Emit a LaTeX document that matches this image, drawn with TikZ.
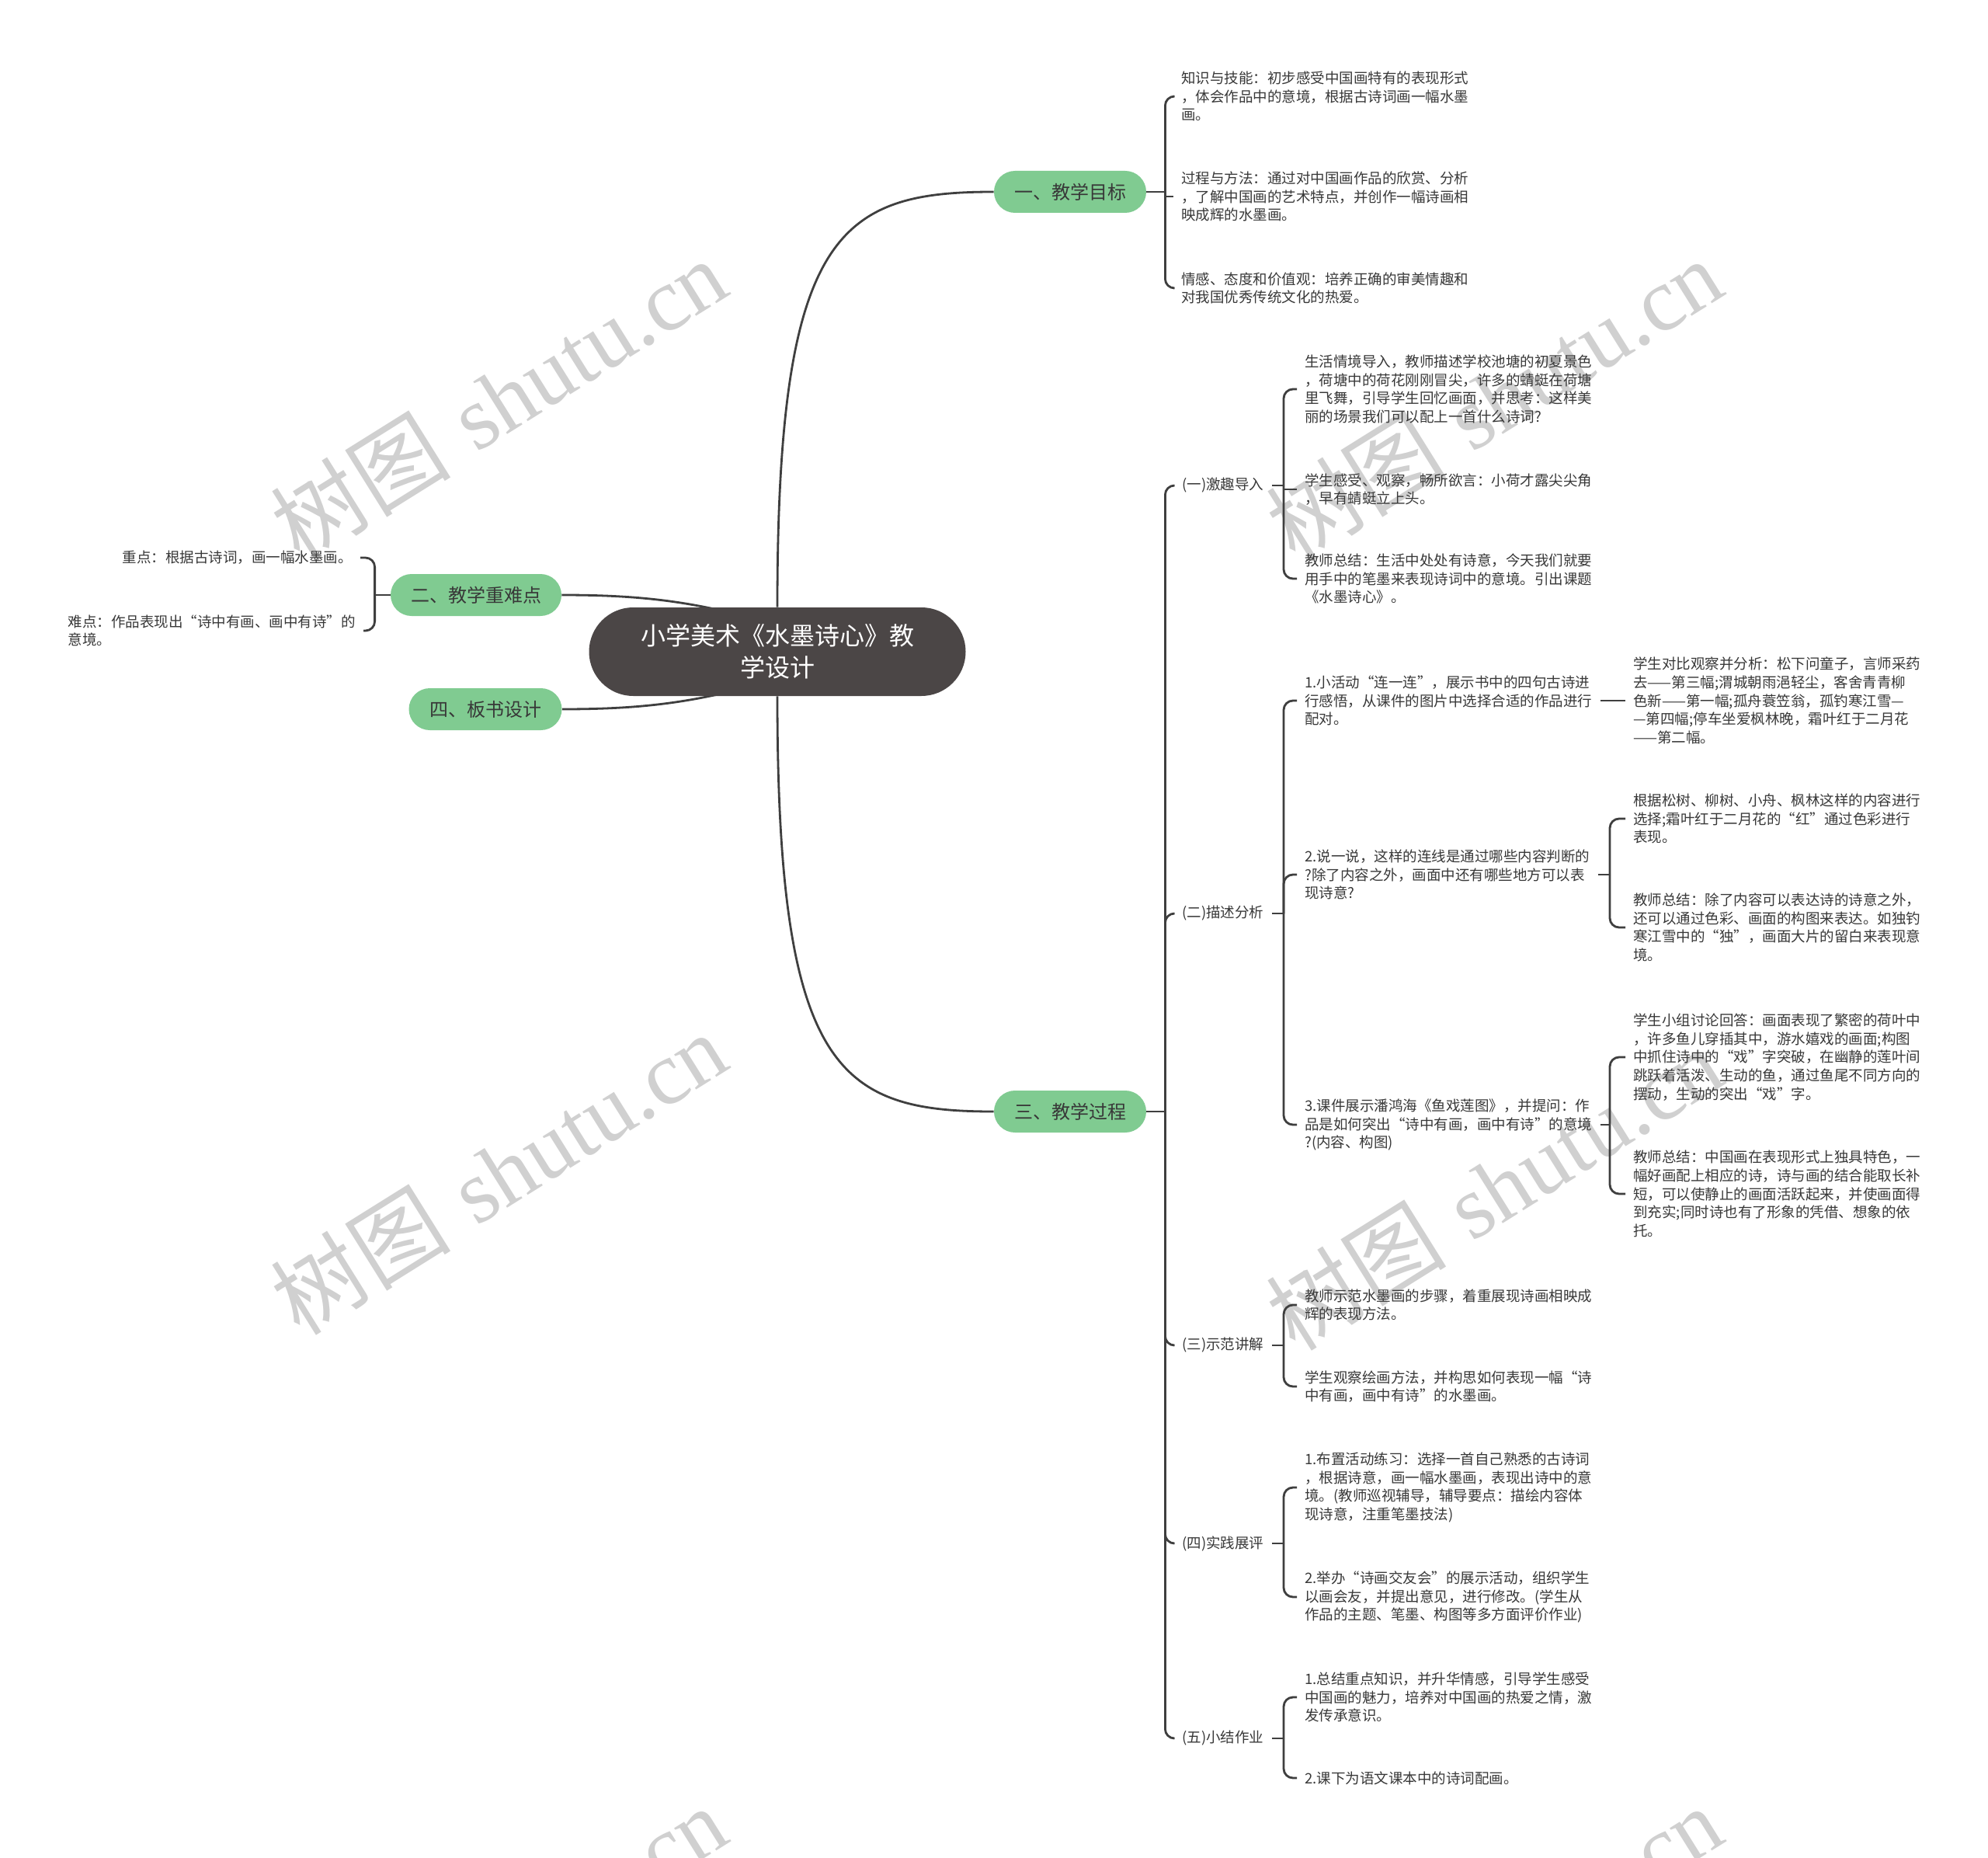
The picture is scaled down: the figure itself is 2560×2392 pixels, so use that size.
\documentclass[tikz,border=0pt]{standalone}
\usepackage{fontspec}
\newfontfamily\cjk{Noto Sans CJK SC}
\newfontfamily\wmserif{Liberation Serif}
\usetikzlibrary{backgrounds}
\definecolor{linec}{HTML}{3F3F3F}
\definecolor{txtc}{HTML}{383838}
\definecolor{greenc}{HTML}{80CB91}
\definecolor{rootc}{HTML}{4B4646}
\definecolor{wmc}{HTML}{D0D0D0}
\begin{document}
\begin{tikzpicture}[x=0.5pt,y=-0.5pt,
  conn/.style={draw=linec, line width=1.4pt, rounded corners=6pt},
  mainline/.style={draw=linec, line width=1.4pt},
  leaf/.style={font=\cjk\fontsize{9.25pt}{11.85pt}\selectfont, text=txtc, align=left, inner xsep=5pt, inner ysep=2pt, anchor=west},
  leafl/.style={leaf, anchor=east},
  topic/.style={font=\cjk\fontsize{12pt}{14pt}\selectfont, text=txtc, fill=greenc, rounded corners=13.5pt, minimum height=27pt, minimum width=98pt, inner sep=0pt},
  rootbox/.style={font=\cjk\fontsize{16pt}{20.5pt}\selectfont, text=white, fill=rootc, rounded corners=28.5pt, minimum height=57pt, minimum width=242.5pt, inner sep=0pt, align=center},
  wmark/.style={text=wmc, rotate=32, font=\fontsize{58pt}{64pt}\selectfont, inner sep=0pt}
]
\useasboundingbox (0,0) rectangle (2560,2392);

% ---------- nodes ----------
\node[rootbox] (root) at (1001,839) {小学美术《水墨诗心》教\\学设计};

\node[topic] (t1) at (1378,247) {一、教学目标};
\node[topic] (t3) at (1378,1431) {三、教学过程};
\node[topic, minimum width=110pt] (t2) at (613,766) {二、教学重难点};
\node[topic, minimum width=98.5pt] (t4) at (625,913) {四、板书设计};

% 一
\node[leaf] (a1) at (1511,124) {知识与技能：初步感受中国画特有的表现形式\\，体会作品中的意境，根据古诗词画一幅水墨\\画。};
\node[leaf] (a2) at (1511,253) {过程与方法：通过对中国画作品的欣赏、分析\\，了解中国画的艺术特点，并创作一幅诗画相\\映成辉的水墨画。};
\node[leaf] (a3) at (1511,371) {情感、态度和价值观：培养正确的审美情趣和\\对我国优秀传统文化的热爱。};

% 二
\node[leafl] (l1) at (464,718) {重点：根据古诗词，画一幅水墨画。};
\node[leafl] (l2) at (468,812) {难点：作品表现出“诗中有画、画中有诗”的\\意境。};

% 三 sub headers
\node[leaf] (s1) at (1512,625) {(一)激趣导入};
\node[leaf] (s2) at (1512,1176) {(二)描述分析};
\node[leaf] (s3) at (1512,1732) {(三)示范讲解};
\node[leaf] (s4) at (1512,1987) {(四)实践展评};
\node[leaf] (s5) at (1512,2238) {(五)小结作业};

% (一)
\node[leaf] (b1) at (1670,501) {生活情境导入，教师描述学校池塘的初夏景色\\，荷塘中的荷花刚刚冒尖，许多的蜻蜓在荷塘\\里飞舞，引导学生回忆画面，并思考：这样美\\丽的场景我们可以配上一首什么诗词?};
\node[leaf] (b2) at (1670,630) {学生感受、观察，畅所欲言：小荷才露尖尖角\\，早有蜻蜓立上头。};
\node[leaf] (b3) at (1670,745) {教师总结：生活中处处有诗意，今天我们就要\\用手中的笔墨来表现诗词中的意境。引出课题\\《水墨诗心》。};

% (二)
\node[leaf] (c1) at (1670,902) {1.小活动“连一连”，展示书中的四句古诗进\\行感悟，从课件的图片中选择合适的作品进行\\配对。};
\node[leaf] (c2) at (1670,1126) {2.说一说，这样的连线是通过哪些内容判断的\\?除了内容之外，画面中还有哪些地方可以表\\现诗意?};
\node[leaf] (c3) at (1670,1448) {3.课件展示潘鸿海《鱼戏莲图》，并提问：作\\品是如何突出“诗中有画，画中有诗”的意境\\?(内容、构图)};

\node[leaf] (d1) at (2093,902) {学生对比观察并分析：松下问童子，言师采药\\去——第三幅;渭城朝雨浥轻尘，客舍青青柳\\色新——第一幅;孤舟蓑笠翁，孤钓寒江雪—\\—第四幅;停车坐爱枫林晚，霜叶红于二月花\\——第二幅。};
\node[leaf] (e1) at (2093,1054) {根据松树、柳树、小舟、枫林这样的内容进行\\选择;霜叶红于二月花的“红”通过色彩进行\\表现。};
\node[leaf] (e2) at (2093,1194) {教师总结：除了内容可以表达诗的诗意之外，\\还可以通过色彩、画面的构图来表达。如独钓\\寒江雪中的“独”，画面大片的留白来表现意\\境。};
\node[leaf] (f1) at (2093,1361) {学生小组讨论回答：画面表现了繁密的荷叶中\\，许多鱼儿穿插其中，游水嬉戏的画面;构图\\中抓住诗中的“戏”字突破，在幽静的莲叶间\\跳跃着活泼、生动的鱼，通过鱼尾不同方向的\\摆动，生动的突出“戏”字。};
\node[leaf] (f2) at (2093,1537) {教师总结：中国画在表现形式上独具特色，一\\幅好画配上相应的诗，诗与画的结合能取长补\\短，可以使静止的画面活跃起来，并使画面得\\到充实;同时诗也有了形象的凭借、想象的依\\托。};

% (三)
\node[leaf] (g1) at (1670,1680) {教师示范水墨画的步骤，着重展现诗画相映成\\辉的表现方法。};
\node[leaf] (g2) at (1670,1785) {学生观察绘画方法，并构思如何表现一幅“诗\\中有画，画中有诗”的水墨画。};

% (四)
\node[leaf] (h1) at (1670,1915) {1.布置活动练习：选择一首自己熟悉的古诗词\\，根据诗意，画一幅水墨画，表现出诗中的意\\境。(教师巡视辅导，辅导要点：描绘内容体\\现诗意，注重笔墨技法)};
\node[leaf] (h2) at (1670,2056) {2.举办“诗画交友会”的展示活动，组织学生\\以画会友，并提出意见，进行修改。(学生从\\作品的主题、笔墨、构图等多方面评价作业)};

% (五)
\node[leaf] (i1) at (1670,2185) {1.总结重点知识，并升华情感，引导学生感受\\中国画的魅力，培养对中国画的热爱之情，激\\发传承意识。};
\node[leaf] (i2) at (1670,2289) {2.课下为语文课本中的诗词配画。};

% ---------- bracket junction coordinates ----------
\coordinate (k1) at (1653,625);
\coordinate (k2) at (1653,1176);
\coordinate (k3) at (2073,1126);
\coordinate (k4) at (2073,1448);
\coordinate (k5) at (1653,1732);
\coordinate (k6) at (1653,1987);
\coordinate (k7) at (1653,2238);
\coordinate (r2) at (1001,805);
\coordinate (r4) at (1001,874);

% ---------- background: watermarks and root curves ----------
\begin{scope}[on background layer]
  \fill[white] (0,0) rectangle (2560,2392);
  \begin{scope}
    \clip (0,0) rectangle (2560,2392);
    \node[wmark] (wm1) at (642,514) {{\cjk 树图} {\wmserif shutu.cn}};
    \node[wmark] (wm2) at (1924,514) {{\cjk 树图} {\wmserif shutu.cn}};
    \node[wmark] (wm3) at (642,1510) {{\cjk 树图} {\wmserif shutu.cn}};
    \node[wmark] (wm4) at (1924,1530) {{\cjk 树图} {\wmserif shutu.cn}};
    \node[wmark] (wm5) at (642,2506) {{\cjk 树图} {\wmserif shutu.cn}};
    \node[wmark] (wm6) at (1924,2506) {{\cjk 树图} {\wmserif shutu.cn}};
  \end{scope}
  \draw[mainline] (root.north) .. controls (1001,300) and (1080,247) .. (t1.west);
  \draw[mainline] (root.south) .. controls (1001,1378) and (1080,1431) .. (t3.west);
  \draw[mainline] (t2.east) .. controls (830,766) and (900,775) .. (r2);
  \draw[mainline] (t4.east) .. controls (830,913) and (900,904) .. (r4);
\end{scope}

% ---------- connectors ----------
% 一
\draw[conn] (t1.east) -- ++(24,0) coordinate (j1);
\draw[conn] (j1) |- (a1.west);
\draw[conn] (a2.west -| j1) -- (a2.west);
\draw[conn] (j1) |- (a3.west);
% 二
\draw[conn] (t2.west) -- ++(-20,0) coordinate (j2);
\draw[conn] (j2) |- (l1.east);
\draw[conn] (j2) |- (l2.east);
% 三
\draw[conn] (t3.east) -- ++(24,0) coordinate (j3);
\draw[conn] (j3) |- (s1.west);
\draw[conn] (j3) |- (s2.west);
\draw[conn] (j3) |- (s3.west);
\draw[conn] (j3) |- (s4.west);
\draw[conn] (j3) |- (s5.west);
% (一)
\draw[conn] (s1.east) -- (k1);
\draw[conn] (k1) |- (b1.west);
\draw[conn] (b2.west -| k1) -- (b2.west);
\draw[conn] (k1) |- (b3.west);
% (二)
\draw[conn] (s2.east) -- (k2);
\draw[conn] (k2) |- (c1.west);
\draw[conn] (k2) |- (c2.west);
\draw[conn] (k2) |- (c3.west);
\draw[conn] (c1.east) -- (d1.west);
\draw[conn] (c2.east) -- (k3);
\draw[conn] (k3) |- (e1.west);
\draw[conn] (k3) |- (e2.west);
\draw[conn] (c3.east) -- (k4);
\draw[conn] (k4) |- (f1.west);
\draw[conn] (k4) |- (f2.west);
% (三)
\draw[conn] (s3.east) -- (k5);
\draw[conn] (k5) |- (g1.west);
\draw[conn] (k5) |- (g2.west);
% (四)
\draw[conn] (s4.east) -- (k6);
\draw[conn] (k6) |- (h1.west);
\draw[conn] (k6) |- (h2.west);
% (五)
\draw[conn] (s5.east) -- (k7);
\draw[conn] (k7) |- (i1.west);
\draw[conn] (k7) |- (i2.west);
\end{tikzpicture}
\end{document}
